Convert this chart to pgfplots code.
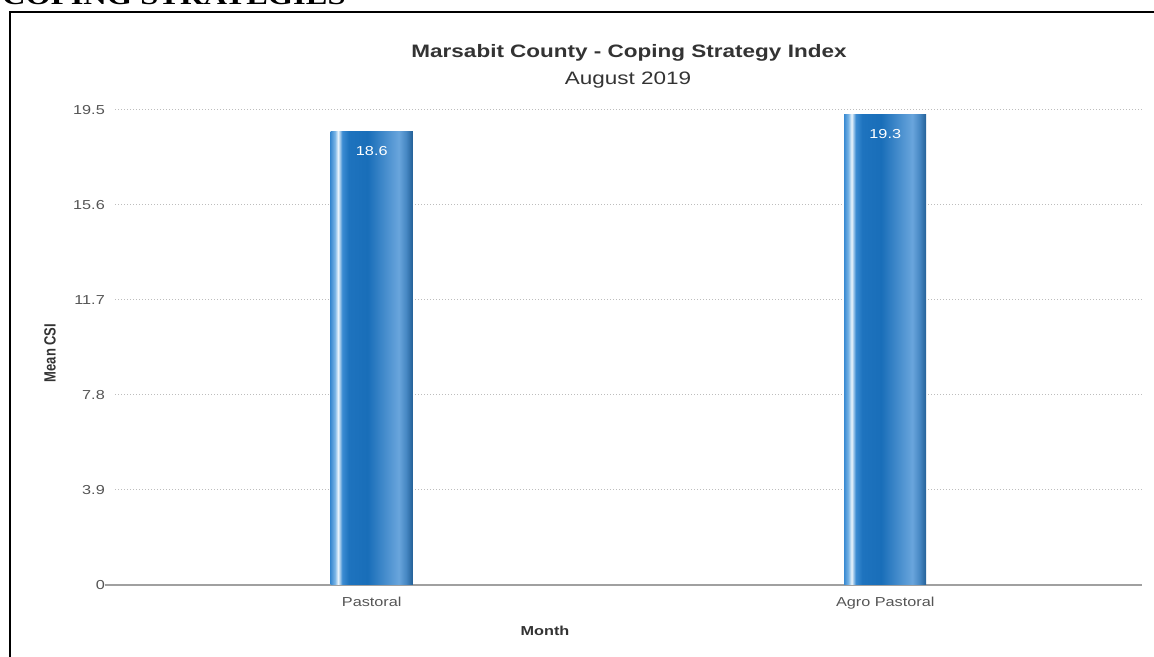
\documentclass[border=0pt]{standalone}
\usepackage{fontspec}
\usepackage{pgfplots}
\pgfplotsset{compat=1.18}
\setmainfont{Liberation Sans}
\newfontfamily\stf[FakeStretch=1.25]{Liberation Sans}
\newfontfamily\serifstf[FakeStretch=1.25]{Liberation Serif}
\definecolor{titlegray}{HTML}{333333}
\definecolor{tickgray}{HTML}{555555}
\definecolor{gridgray}{HTML}{BDBDBD}
\definecolor{axisgray}{HTML}{A0A0A0}
\definecolor{sa}{RGB}{60,140,210}
\definecolor{sb}{RGB}{120,180,230}
\definecolor{sc}{RGB}{235,245,252}
\definecolor{sd}{RGB}{60,140,210}
\definecolor{se}{RGB}{30,115,190}
\definecolor{sf}{RGB}{25,110,185}
\definecolor{sg}{RGB}{105,165,220}
\definecolor{sh}{RGB}{70,135,195}
\definecolor{si}{RGB}{35,95,150}
\pgfdeclarehorizontalshading{barshade}{100bp}{color(0bp)=(sa); color(25bp)=(sa); color(27.5bp)=(sb); color(29.5bp)=(sc); color(32bp)=(sd); color(36bp)=(se); color(47.5bp)=(sf); color(66.5bp)=(sg); color(71bp)=(sh); color(75bp)=(si); color(100bp)=(si)}
\pgfplotsset{
  csibar/.style={ybar, bar width=82bp, bar shift=0pt, draw=none, shading=barshade,
    nodes near coords,
    every node near coord/.append style={anchor=base, yshift=-24bp, text=white, font=\stf\fontsize{13bp}{15bp}\selectfont},
    /pgf/number format/fixed, /pgf/number format/precision=1, /pgf/number format/fixed zerofill},
}
\begin{document}
\begin{tikzpicture}[x=1bp,y=1bp]
\clip (0,0) rectangle (1154,657);
\node[anchor=base west, inner sep=0pt] at (2,652) {\serifstf\bfseries\fontsize{26bp}{30bp}\selectfont COPING STRATEGIES};
\draw[line width=2bp] (10,-5) -- (10,645) -- (1170,645);
\begin{axis}[
  at={(115bp,72bp)}, anchor=south west,
  scale only axis, width=1027bp, height=475bp,
  xmin=-0.5, xmax=1.5, ymin=0, ymax=19.5,
  xtick={0,1}, xticklabels={Pastoral,Agro Pastoral},
  ytick={0,3.9,7.8,11.7,15.6,19.5},
  yticklabels={0,3.9,7.8,11.7,15.6,19.5},
  major tick length=0pt,
  axis line style={draw=none},
  ymajorgrids,
  major grid style={gridgray, line width=1bp, dash pattern=on 1bp off 2bp},
  /pgf/number format/assume math mode=true,
  tick label style={font=\stf\fontsize{13bp}{15bp}\selectfont, text=tickgray},
  yticklabel style={anchor=east, inner sep=0pt, xshift=-10bp},
  xticklabel style={anchor=base, inner sep=0pt, yshift=-22bp},
  clip=false,
]
\draw[axisgray, line width=1.2bp] (axis cs:-0.52,0) -- (axis cs:1.5,0);
\addplot[csibar] coordinates {(0,18.6)};
\addplot[csibar] coordinates {(1,19.3)};
\end{axis}
\node[anchor=base, inner sep=0pt, text=titlegray] at (629,599) {\stf\bfseries\fontsize{18bp}{22bp}\selectfont Marsabit County - Coping Strategy Index};
\node[anchor=base, inner sep=0pt, text=titlegray] at (628,572) {\stf\fontsize{18bp}{22bp}\selectfont August 2019};
\node[anchor=base, inner sep=0pt, text=titlegray] at (545,21) {\stf\bfseries\fontsize{13bp}{15bp}\selectfont Month};
\node[anchor=center, inner sep=0pt, text=titlegray] at (50,304) {\scalebox{1.25}[1]{\rotatebox{90}{\bfseries\fontsize{13bp}{15bp}\selectfont Mean CSI}}};
\end{tikzpicture}
\end{document}
